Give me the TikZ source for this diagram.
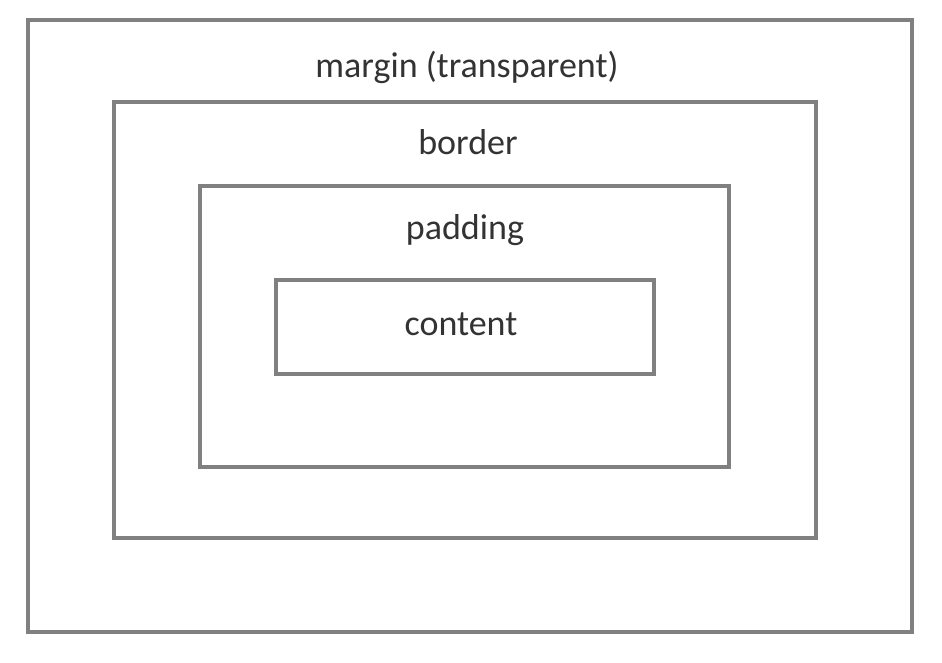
\documentclass[tikz,border=0pt]{standalone}
\usepackage{fontspec}
\setmainfont{Carlito}
\begin{document}
\begin{tikzpicture}[x=1pt,y=-1pt,
  boxline/.style={draw=boxgray,line width=4pt},
  lbl/.style={anchor=base,inner sep=0pt,text=labelgray,font=\fontsize{36}{40}\selectfont}]
\definecolor{boxgray}{HTML}{808080}
\definecolor{labelgray}{HTML}{333333}
\useasboundingbox (0,0) rectangle (942,662);
% nested boxes of the CSS box model
\draw[boxline] (28,20) rectangle (912,632);
\draw[boxline] (114,102) rectangle (816,538);
\draw[boxline] (200,186) rectangle (729,467);
\draw[boxline] (276,280) rectangle (654,374);
% labels
\node[lbl] (margin) at (467,77) {margin (transparent)};
\node[lbl] (border) at (468,154) {border};
\node[lbl] (padding) at (465,239) {padding};
\node[lbl] (content) at (461,335) {content};
\end{tikzpicture}
\end{document}
